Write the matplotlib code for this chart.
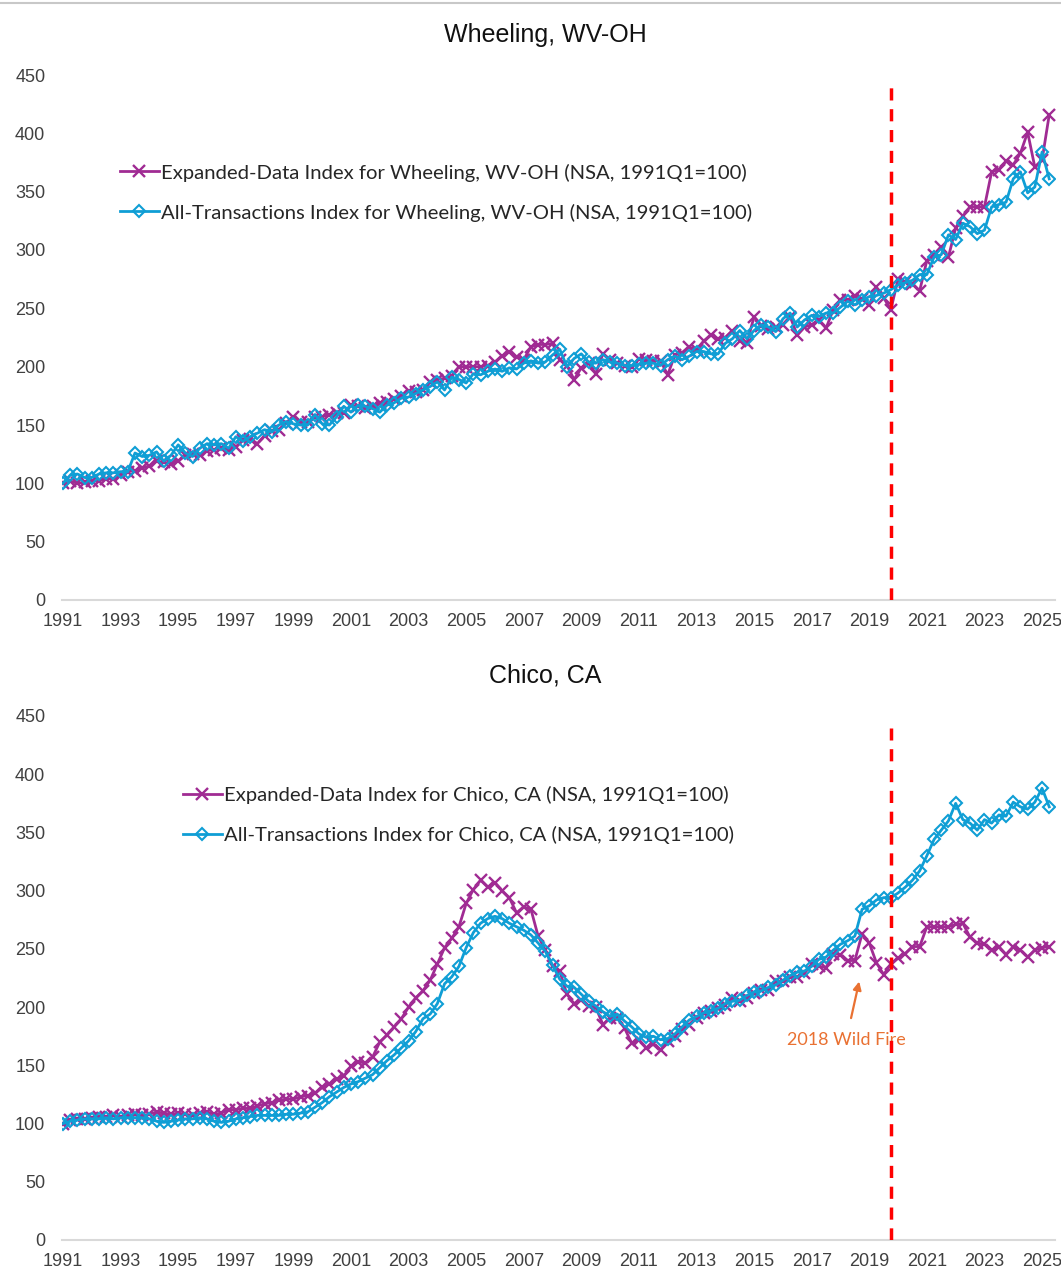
import matplotlib
matplotlib.use("Agg")
import matplotlib.pyplot as plt
from matplotlib import font_manager
from matplotlib.lines import Line2D

# quarterly data 1991Q1 .. 2025Q2 (138 quarters)
wheeling_expanded = [
    100, 102, 100, 101, 102, 102, 104, 104, 107, 110, 111, 113, 115, 119, 118, 117,
    119, 124, 125, 124, 128, 129, 130, 129, 131, 137, 138, 134, 141, 145, 146,
    152, 157, 153, 153, 157, 157, 159, 160, 160, 167, 166, 165, 166, 169, 170, 172,
    175, 179, 178, 180, 187, 189, 190, 192, 200, 200, 200, 200, 201, 204, 209, 213,
    208, 206, 217, 219, 219, 220, 206, 201, 189, 199, 203, 194, 211, 206, 203, 201,
    200, 207, 206, 205, 205, 193, 210, 212, 217, 214, 222, 227, 224, 225, 231, 222,
    220, 243, 235, 232, 234, 236, 243, 227, 234, 236, 240, 233, 249, 257, 257,
    261, 258, 253, 268, 259, 249, 275, 273, 271, 265, 291, 296, 303, 294, 319, 329,
    337, 337, 337, 367, 369, 376, 373, 383, 401, 371, 377, 416,
]
wheeling_all = [
    100, 107, 108, 105, 105, 108, 109, 109, 110, 110, 126, 123, 124, 127, 119, 124,
    133, 126, 123, 130, 134, 133, 134, 130, 140, 136, 140, 143, 146, 144, 150,
    153, 151, 150, 150, 159, 151, 150, 157, 166, 161, 167, 166, 164, 161, 167, 169,
    173, 174, 177, 180, 183, 187, 180, 191, 189, 186, 194, 193, 196, 198, 196, 199,
    198, 203, 205, 203, 204, 210, 215, 200, 207, 211, 204, 203, 206, 204, 203, 201,
    201, 202, 203, 203, 201, 206, 209, 206, 209, 213, 213, 211, 211, 220, 224, 231,
    224, 231, 236, 234, 230, 241, 246, 234, 240, 244, 243, 246, 246, 251, 256,
    253, 257, 260, 261, 263, 266, 270, 272, 274, 279, 279, 294, 296, 313, 309, 323,
    320, 314, 317, 337, 339, 341, 361, 367, 349, 354, 384, 361,
]
chico_expanded = [
    100, 103, 104, 104, 105, 106, 106, 107, 106, 107, 108, 107, 108, 110, 109,
    108, 109, 108, 107, 109, 110, 108, 109, 112, 112, 113, 113, 115, 117, 118, 120,
    121, 121, 123, 124, 126, 131, 134, 138, 141, 149, 153, 152, 157, 170, 176, 183,
    190, 200, 208, 214, 223, 237, 251, 259, 269, 289, 301, 309, 303, 307, 300, 294,
    281, 286, 284, 261, 249, 235, 231, 211, 203, 206, 201, 200, 185, 191, 191, 182,
    169, 172, 165, 168, 163, 171, 175, 181, 185, 191, 195, 197, 199, 202, 208, 205,
    208, 212, 215, 215, 222, 222, 226, 226, 229, 237, 235, 234, 246, 245, 240,
    240, 263, 255, 238, 228, 237, 242, 246, 252, 252, 269, 269, 269, 269, 271, 272,
    260, 255, 254, 249, 252, 245, 252, 249, 243, 249, 251, 252,
]
chico_all = [
    100, 102, 103, 104, 104, 104, 105, 104, 105, 105, 105, 105, 104, 102, 101,
    102, 103, 104, 104, 105, 104, 102, 101, 102, 104, 105, 106, 107, 107, 107, 107,
    108, 108, 109, 110, 114, 118, 123, 127, 131, 134, 136, 139, 142, 148, 154, 159,
    165, 171, 179, 190, 194, 203, 220, 226, 235, 251, 264, 272, 276, 278, 276, 272,
    269, 266, 262, 255, 248, 236, 224, 218, 217, 211, 205, 201, 196, 192, 194, 188,
    183, 177, 174, 175, 172, 173, 177, 183, 189, 192, 195, 197, 199, 203, 205, 206,
    210, 213, 214, 217, 219, 223, 227, 230, 231, 235, 241, 243, 249, 254, 257,
    261, 284, 287, 292, 294, 294, 298, 303, 309, 317, 330, 344, 352, 360, 375, 361,
    358, 352, 361, 358, 365, 364, 376, 372, 370, 376, 388, 372,
]
year_labels = [str(y) for y in range(1991, 2026, 2)]
policy_break = 115   # red dashed marker, quarter index
fire_tip = (110.6, 222)
fire_text = (108.8, 172)

PURPLE = "#A02B93"
BLUE = "#0F9ED5"

names = {f.name for f in font_manager.fontManager.ttflist}
title_font = "Liberation Sans Narrow" if "Liberation Sans Narrow" in names else "Liberation Sans"
tick_font = "Liberation Sans"
text_font = "Lato"

fig = plt.figure(figsize=(10.61, 12.79), dpi=100)
W, H = 1061, 1279


def make_axes(top_px, bottom_px):
    left, right = 62, 1055
    return fig.add_axes([left / W, 1 - bottom_px / H, (right - left) / W, (bottom_px - top_px) / H])


def draw(ax, expanded, alltx, city, legend_xy, title_y):
    x = list(range(len(expanded)))
    ax.plot(x, expanded, color=PURPLE, lw=2, marker="x", ms=8, mew=1.7,
            label=f"Expanded-Data Index for {city} (NSA, 1991Q1=100)")
    ax.plot(x, alltx, color=BLUE, lw=2, marker="D", ms=6, mew=1.5, mfc="none",
            label=f"All-Transactions Index for {city} (NSA, 1991Q1=100)")
    ax.plot([policy_break, policy_break], [0, 440], color="#FF0000", lw=2.5,
            ls=(0, (3.5, 2.5)), zorder=5)
    ax.set_xlim(-0.14, 137.8)
    ax.set_ylim(0, 450)
    ax.set_yticks(range(0, 451, 50))
    ax.set_xticks(range(0, 137, 8))
    ax.set_xticklabels(year_labels)
    for s in ["left", "right", "top"]:
        ax.spines[s].set_visible(False)
    ax.spines["bottom"].set_color("#D9D9D9")
    ax.spines["bottom"].set_linewidth(1.5)
    ax.tick_params(axis="both", length=0, labelsize=13, labelcolor="#404040")
    ax.tick_params(axis="y", pad=12)
    ax.tick_params(axis="x", pad=9)
    for lab in ax.get_xticklabels() + ax.get_yticklabels():
        lab.set_fontfamily(tick_font)
    leg = ax.legend(loc="center left", bbox_to_anchor=(legend_xy[0] / W, 1 - legend_xy[1] / H),
                    bbox_transform=fig.transFigure, frameon=False, borderpad=0,
                    borderaxespad=0, handlelength=1.9, handletextpad=0.1,
                    labelspacing=1.08, prop={"family": text_font, "size": 14.6})
    for t in leg.get_texts():
        t.set_color("#262626")
    fig.text(545 / W, 1 - title_y / H, city, ha="center", va="center",
             fontsize=18, family=title_font, color="#111111")


ax1 = make_axes(75, 600)
draw(ax1, wheeling_expanded, wheeling_all, "Wheeling, WV-OH", (120, 192.5), 35)

ax2 = make_axes(716, 1240)
draw(ax2, chico_expanded, chico_all, "Chico, CA", (183, 815), 675)
ax2.annotate("2018 Wild Fire", xy=fire_tip, xytext=fire_text, ha="center", va="center",
             fontsize=13, family=text_font, color="#E97132",
             arrowprops=dict(arrowstyle="-|>", color="#E97132", lw=1.6,
                             shrinkA=8, shrinkB=0, mutation_scale=12))

fig.add_artist(Line2D([0, 1], [1 - 3 / H, 1 - 3 / H], color="#C8C8C8", lw=1.5,
                      transform=fig.transFigure))

fig.savefig("out.png", dpi=100)
